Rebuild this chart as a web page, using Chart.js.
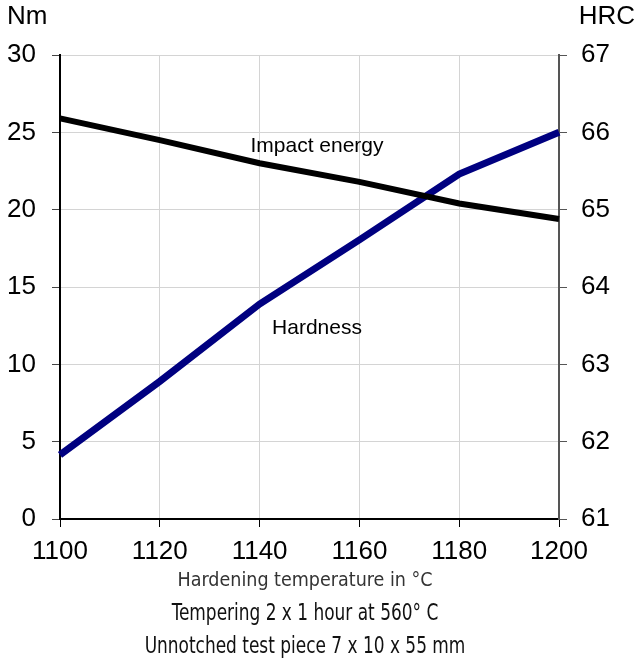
<!DOCTYPE html>
<html>
<head>
<meta charset="utf-8">
<script src="https://cdn.jsdelivr.net/npm/chart.js@4"></script>
<style>
  html, body { margin: 0; padding: 0; background: #fff; }
  #wrap { width: 636px; height: 670px; }
</style>
</head>
<body>
<div id="wrap"><canvas id="grafico" width="636" height="670"></canvas></div>
<script>
// dados
const temperaturas = [1100, 1120, 1140, 1160, 1180, 1200];
const energiaImpacto = [25.9, 24.5, 23.0, 21.8, 20.4, 19.4];
const dureza = [61.83, 62.78, 63.78, 64.61, 65.46, 66.0];
const ticksX = [1100, 1120, 1140, 1160, 1180, 1200];
const unidadeEsq = 'Nm';
const unidadeDir = 'HRC';
const tituloX = 'Hardening temperature in °C';
const notas = ['Tempering 2 x 1 hour at 560° C', 'Unnotched test piece 7 x 10 x 55 mm'];

const fonteNum = '"Liberation Sans", Arial, sans-serif';
const fonteNarrow = '"DejaVu Sans Condensed", "Liberation Sans Narrow", sans-serif';

// texto comprimido na horizontal (a fonte original é condensada)
function textoEstreito(ctx, txt, x, y, escala) {
  ctx.save();
  ctx.translate(x, y);
  ctx.scale(escala, 1);
  ctx.fillText(txt, 0, 0);
  ctx.restore();
}

// textos fixos: unidades, rótulos das curvas e notas de rodapé
const textos = {
  id: 'textos',
  afterDraw(chart) {
    const ctx = chart.ctx;
    const x = chart.scales.x;
    const yL = chart.scales.y;
    const yR = chart.scales.y2;
    ctx.save();
    ctx.fillStyle = '#000';
    ctx.textBaseline = 'middle';
    ctx.font = '26px ' + fonteNum;
    ctx.textAlign = 'left';
    ctx.fillText(unidadeEsq, 7, 17);
    ctx.textAlign = 'right';
    ctx.fillText(unidadeDir, 635, 17);

    ctx.font = '21px ' + fonteNum;
    ctx.textAlign = 'center';
    ctx.fillText('Impact energy', x.getPixelForValue(1151.5), yL.getPixelForValue(24.12));
    ctx.fillText('Hardness', x.getPixelForValue(1151.5), yR.getPixelForValue(63.47));

    const cx = 305;
    ctx.fillStyle = '#333';
    ctx.font = '19.5px ' + fonteNarrow;
    ctx.fillText(tituloX, cx, 581);
    ctx.fillStyle = '#111';
    ctx.font = '23px ' + fonteNarrow;
    textoEstreito(ctx, notas[0], cx, 614, 0.82);
    textoEstreito(ctx, notas[1], cx, 647, 0.82);
    ctx.restore();
  }
};

const ctx = document.getElementById('grafico').getContext('2d');
new Chart(ctx, {
  type: 'line',
  data: {
    datasets: [
      {
        label: 'Impact energy',
        data: temperaturas.map((t, i) => ({ x: t, y: energiaImpacto[i] })),
        borderColor: '#000',
        borderWidth: 6,
        pointRadius: 0,
        yAxisID: 'y'
      },
      {
        label: 'Hardness',
        data: temperaturas.map((t, i) => ({ x: t, y: dureza[i] })),
        borderColor: '#000080',
        borderWidth: 7,
        pointRadius: 0,
        yAxisID: 'y2'
      }
    ]
  },
  options: {
    responsive: false,
    animation: false,
    clip: false,
    layout: { padding: { top: 55, left: 0, right: 0, bottom: 0 } },
    plugins: { legend: { display: false }, tooltip: { enabled: false } },
    scales: {
      x: {
        type: 'linear',
        min: 1100,
        max: 1200,
        afterBuildTicks(s) { s.ticks = ticksX.map(v => ({ value: v })); },
        afterFit(s) { s.height = 151; },
        ticks: {
          font: { family: fonteNum, size: 26 }, color: '#000', padding: 9, maxRotation: 0,
          callback: v => String(v)
        },
        grid: { color: '#d4d4d4', lineWidth: 1, tickLength: 8, tickColor: '#000' },
        border: { color: '#000', width: 2 }
      },
      y: {
        position: 'left',
        min: 0,
        max: 30,
        ticks: { stepSize: 5, font: { family: fonteNum, size: 26 }, color: '#000', padding: 16 },
        afterFit(s) { s.width = 60; },
        grid: { color: '#d4d4d4', lineWidth: 1, tickLength: 8, tickColor: '#444' },
        border: { color: '#000', width: 2 }
      },
      y2: {
        position: 'right',
        min: 61,
        max: 67,
        ticks: { stepSize: 1, font: { family: fonteNum, size: 26 }, color: '#000', padding: 14 },
        afterFit(s) { s.width = 77; },
        grid: { drawOnChartArea: false, tickLength: 8, tickColor: '#555' },
        border: { color: '#555', width: 2 }
      }
    }
  },
  plugins: [textos]
});
</script>
</body>
</html>
